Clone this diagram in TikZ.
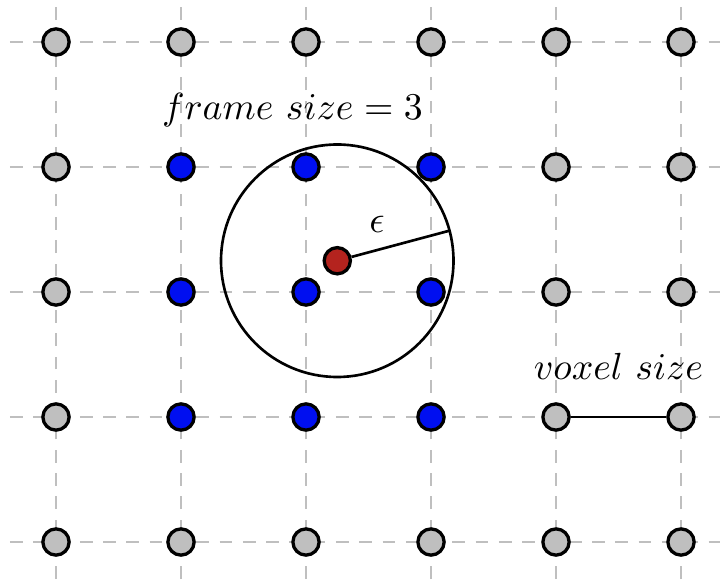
\documentclass[tikz,border=0pt]{standalone}
\usepackage{amsmath}
\usepackage{tikz}
\usetikzlibrary{calc}
\definecolor{voxblue}{RGB}{0,15,240}
\definecolor{voxred}{RGB}{180,35,30}
\tikzset{
 gridline/.style={gray!50, line width=.6pt, dash pattern=on 2.9pt off 2.4pt},
 voxel/.style={circle, draw=black, line width=.75pt, minimum size=.21cm, inner sep=0, fill=gray!50},
 framevox/.style={voxel, fill=voxblue},
 queryvox/.style={voxel, fill=voxred},
 lbl/.style={scale=.86, inner sep=0},
}

\begin{document}
\begin{tikzpicture}
\useasboundingbox (-0.448,-0.296) rectangle (5.368,4.336);
\foreach \y in {0,...,4} {
 \draw[gridline] (-0.368,\y) -- (5.312,\y);
};
\foreach \x in {0,...,5} {
 \draw[gridline] (\x,-0.296) -- (\x,4.336);
};
\foreach \x in {0,...,5} {
 \foreach \y in {0,...,4} {
  \pgfmathtruncatemacro{\inframe}{and(and(\x>0,\x<4),and(\y>0,\y<4))}
  \ifnum\inframe=1
   \node[framevox] (v\x\y) at (\x,\y) {};
  \else
   \node[voxel] (v\x\y) at (\x,\y) {};
  \fi
 };
};
\coordinate (c) at (2.25,2.25);
\coordinate (rim) at ($(c)+(15:0.93)$);
\draw[line width=.6pt] (c) circle (0.93);
\node[queryvox] (q) at (c) {};
\draw[line width=.6pt] (q) -- (rim);
\node[lbl] (eps) at (2.568,2.544) {$\epsilon$};
\node[lbl, anchor=base] (fs) at (1.892,3.376) {$frame\ size=3$};
\draw[line width=.6pt] (v41) -- (v51);
\node[lbl, anchor=base] (vs) at (4.5,1.296) {$voxel\ size$};
\end{tikzpicture}
\end{document}
